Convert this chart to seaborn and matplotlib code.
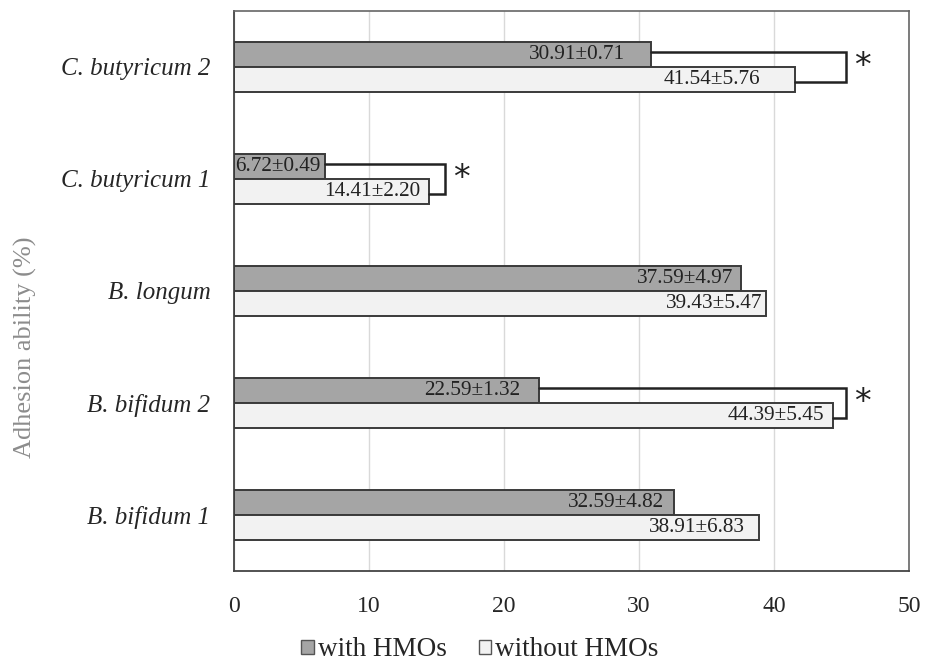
import matplotlib
matplotlib.use("Agg")
import matplotlib.pyplot as plt
import seaborn as sns
import pandas as pd
from matplotlib.patches import Patch

strains = ["C. butyricum 2", "C. butyricum 1", "B. longum", "B. bifidum 2", "B. bifidum 1"]
with_hmos = [30.91, 6.72, 37.59, 22.59, 32.59]
with_sd = [0.71, 0.49, 4.97, 1.32, 4.82]
without_hmos = [41.54, 14.41, 39.43, 44.39, 38.91]
without_sd = [5.76, 2.20, 5.47, 5.45, 6.83]
groups = ["with HMOs", "without HMOs"]
x_ticks = [0, 10, 20, 30, 40, 50]

# significance brackets: strain, bracket position (x value)
sig_strains = ["C. butyricum 2", "C. butyricum 1", "B. bifidum 2"]
sig_bracket_x = [45.3, 15.6, 45.3]

# label inset from bar end (pixels) -- styling
gap_with = [26, 4, 8, 19, 10]
gap_without = [35, 8, 4, 9, 14]

rows = []
for s, w, ws, wo, wos in zip(strains, with_hmos, with_sd, without_hmos, without_sd):
    rows.append({"strain": s, "group": groups[0], "value": w, "sd": ws})
    rows.append({"strain": s, "group": groups[1], "value": wo, "sd": wos})
df = pd.DataFrame(rows)

sns.set_style("white")
plt.rcParams["font.family"] = ["Liberation Serif", "DejaVu Serif"]

fig = plt.figure(figsize=(9.25, 6.64), dpi=100)
ax = fig.add_axes([234 / 925, 1 - 571 / 664, (909 - 234) / 925, (571 - 11) / 664])

colors = {"with HMOs": "#a5a5a5", "without HMOs": "#f2f2f2"}
bw = 0.455
sns.barplot(data=df, y="strain", x="value", hue="group", order=strains,
            hue_order=groups, palette=colors, orient="h", width=bw,
            edgecolor="#3a3a3a", linewidth=1.4, errorbar=None, legend=False,
            ax=ax, zorder=3)

ax.set_xlim(0, 50)
ax.set_ylim(4.5, -0.5)
ax.set_xticks(x_ticks)
ax.set_xticklabels([str(t) for t in x_ticks], fontsize=17)
ax.tick_params(axis="x", length=0, pad=18)
ax.set_yticks(range(len(strains)))
ax.set_yticklabels(strains, fontsize=18, style="italic")
ax.tick_params(axis="y", which="major", length=0, pad=17)
ax.set_yticks([i - 0.5 for i in range(len(strains) + 1)], minor=True)
ax.tick_params(axis="y", which="minor", length=8, width=1.2, color="#444444")
ax.set_xlabel("")
ax.set_ylabel("")

ax.grid(axis="x", color="#d9d9d9", linewidth=1.0, zorder=0)
ax.set_axisbelow(True)
for side in ["left", "bottom"]:
    ax.spines[side].set_color("#444444")
    ax.spines[side].set_linewidth(1.3)
for side in ["top", "right"]:
    ax.spines[side].set_color("#666666")
    ax.spines[side].set_linewidth(1.2)

# value labels
off = bw / 4
for i, s in enumerate(strains):
    for j, (vals, sds, gaps) in enumerate([(with_hmos, with_sd, gap_with),
                                           (without_hmos, without_sd, gap_without)]):
        y = i - off if j == 0 else i + off
        v = vals[i]
        ax.annotate(f"{v:.2f}\u00b1{sds[i]:.2f}", xy=(v, y), xytext=(-gaps[i] * 0.72, 0),
                    textcoords="offset points", ha="right", va="center",
                    fontsize=15.3, color="#222222", zorder=5)

# significance brackets
for s, bx in zip(sig_strains, sig_bracket_x):
    i = strains.index(s)
    y1, y2 = i - off - 0.02, i + off + 0.02
    x1, x2 = with_hmos[i], without_hmos[i]
    ax.plot([x1, bx, bx, x2], [y1, y1, y2, y2], color="#222222",
            linewidth=1.8, zorder=4, solid_joinstyle="miter", clip_on=False)
    ax.text(bx + 0.6, i, "*", fontsize=24, ha="left", va="center",
            color="#222222", zorder=5, family="DejaVu Sans")

fig.text(25 / 925, 1 - 347 / 664, "Adhesion ability (%)", rotation=90,
         ha="center", va="center", fontsize=19, color="#8c8c8c")

handles = [Patch(facecolor=colors[g], edgecolor="#555555", linewidth=1.0, label=g)
           for g in groups]
fig.legend(handles=handles, loc="center", bbox_to_anchor=(480 / 925, 1 - 650 / 664),
           ncol=2, frameon=False, fontsize=19.5, handlelength=0.45, handleheight=0.45,
           handletextpad=0.15, columnspacing=1.2)

fig.savefig("out.png", dpi=100)
